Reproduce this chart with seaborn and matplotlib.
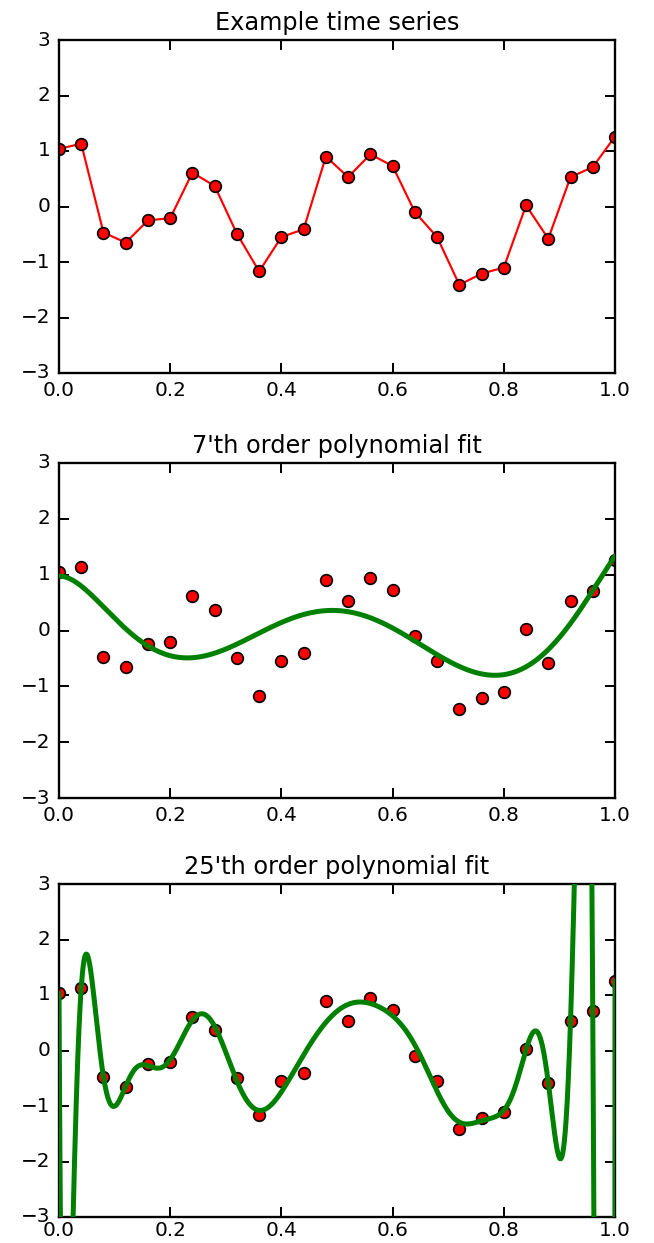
import warnings
import numpy as np
import pandas as pd
import matplotlib
matplotlib.use("Agg")
import matplotlib.pyplot as plt
import seaborn as sns

warnings.filterwarnings("ignore")

# ---- data ----
t = [0.00, 0.04, 0.08, 0.12, 0.16, 0.20, 0.24, 0.28, 0.32, 0.36, 0.40, 0.44, 0.48,
     0.52, 0.56, 0.60, 0.64, 0.68, 0.72, 0.76, 0.80, 0.84, 0.88, 0.92, 0.96, 1.00]
values = [1.04, 1.13, -0.47, -0.65, -0.25, -0.21, 0.61, 0.37, -0.49, -1.17, -0.55, -0.41, 0.90,
          0.53, 0.94, 0.73, -0.10, -0.55, -1.41, -1.21, -1.10, 0.02, -0.58, 0.53, 0.71, 1.26]

# 7th-order fitted curve (sample positions and heights)
fit7_t = [0.0, 0.053, 0.113, 0.173, 0.22, 0.263, 0.323, 0.383, 0.442, 0.49, 0.523,
          0.577, 0.637, 0.697, 0.739, 0.781, 0.823, 0.871, 0.919, 0.961, 0.997]
fit7_y = [0.97, 0.70, 0.10, -0.38, -0.49, -0.44, -0.20, 0.07, 0.27, 0.34, 0.33,
          0.16, -0.14, -0.52, -0.73, -0.82, -0.73, -0.44, 0.16, 0.70, 1.30]

titles = ["Example time series", "7'th order polynomial fit", "25'th order polynomial fit"]
orders = [7, 25]
xticks = [0.0, 0.2, 0.4, 0.6, 0.8, 1.0]
yticks = [-3, -2, -1, 0, 1, 2, 3]

df = pd.DataFrame({"t": t, "y": values})

plt.style.use("classic")
sns.set_style("ticks", {"axes.facecolor": "white"})
plt.rcParams.update({
    "figure.facecolor": "white",
    "savefig.facecolor": "white",
    "font.family": ["DejaVu Sans"],
    "text.color": "black",
    "xtick.color": "black",
    "ytick.color": "black",
    "axes.edgecolor": "black",
})

DPI = 120
W, H = 654.0, 1243.0
fig = plt.figure(figsize=(W / DPI, H / DPI), dpi=DPI)
left = 59 / W
width = (615 - 59) / W
panels = [(40, 373), (463, 798), (884, 1217)]
axes = [fig.add_axes([left, 1 - bot / H, width, (bot - top) / H]) for top, bot in panels]

GREEN = (0, 0.5, 0)


def style(ax, title, xpad=5):
    ax.set_xlim(0, 1)
    ax.set_ylim(-3, 3)
    ax.set_xticks(xticks)
    ax.set_yticks(yticks)
    ax.set_xticklabels([f"{v:.1f}" for v in xticks])
    ax.set_yticklabels([f"{v}".replace("-", "\u2212") for v in yticks])
    ax.tick_params(which="major", length=6, width=1.2, direction="in",
                   top=True, right=True, pad=5, labelsize=12, colors="black")
    ax.tick_params(axis="x", pad=xpad)
    ax.set_xlabel("")
    ax.set_ylabel("")
    ax.set_title(title, fontsize=14.4, pad=6, color="black")
    for s in ax.spines.values():
        s.set_visible(True)
        s.set_linewidth(1.4)
        s.set_color("black")


def points(ax):
    ax.plot(df["t"], df["y"], "o", color="red", mec="black", mew=1.0, ms=7, zorder=2)


# Panel 1: line with markers
ax = axes[0]
sns.lineplot(data=df, x="t", y="y", ax=ax, color="red", lw=1.3, zorder=2)
points(ax)
style(ax, titles[0])

xfit = np.linspace(0, 1, 2000)

# Panel 2: 7th-order polynomial through the curve
ax = axes[1]
points(ax)
p7 = np.polyfit(np.array(fit7_t), np.array(fit7_y), orders[0])
sns.lineplot(x=xfit, y=np.polyval(p7, xfit), ax=ax, color=GREEN, lw=3, zorder=3,
             sort=False, estimator=None)
style(ax, titles[1])

# Panel 3: 25th-order polynomial fit of the data
ax = axes[2]
points(ax)
p25 = np.polyfit(np.array(t), np.array(values), orders[1])
sns.lineplot(x=xfit, y=np.polyval(p25, xfit), ax=ax, color=GREEN, lw=3, zorder=3,
             sort=False, estimator=None)
style(ax, titles[2], xpad=2.5)

fig.savefig("out.png", dpi=DPI)
